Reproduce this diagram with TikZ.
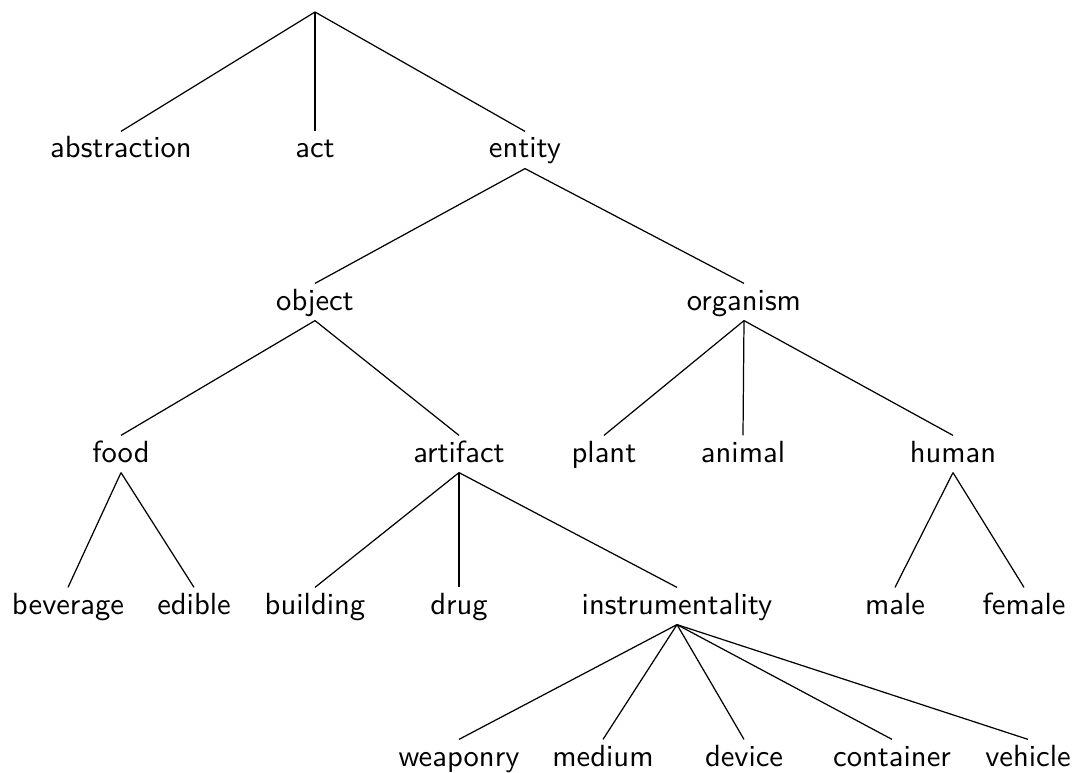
\documentclass[tikz,border=0pt]{standalone}
\begin{document}
\begin{tikzpicture}[x=0.3268pt, y=-0.3268pt,
  lbl/.style={font=\sffamily, anchor=base, inner xsep=0pt, inner ysep=1.6pt,
              text height=6.9pt, text depth=1.67pt},
  edge/.style={draw=black, line width=0.4pt}]
\useasboundingbox (0,0) rectangle (1074,773);

% root
\coordinate (root) at (315,12);

% level 1
\node[lbl] (abstraction) at (121,158) {abstraction};
\node[lbl] (act)         at (315,158) {act};
\node[lbl] (entity)      at (525,158) {entity};

% level 2
\node[lbl] (object)   at (315,310) {object};
\node[lbl] (organism) at (744,310) {organism};

% level 3
\node[lbl] (food)     at (121,462) {food};
\node[lbl] (artifact) at (459,462) {artifact};
\node[lbl] (plant)    at (604,462) {plant};
\node[lbl] (animal)   at (743,462) {animal};
\node[lbl] (human)    at (953,462) {human};

% level 4
\node[lbl] (beverage)  at (68,614)   {beverage};
\node[lbl] (edible)    at (194,614)  {edible};
\node[lbl] (building)  at (315,614)  {building};
\node[lbl] (drug)      at (459,614)  {drug};
\node[lbl] (instr)     at (677,614)  {instrumentality};
\node[lbl] (male)      at (895,614)  {male};
\node[lbl] (female)    at (1024,614) {female};

% level 5
\node[lbl] (weaponry)  at (459,766)  {weaponry};
\node[lbl] (medium)    at (603,766)  {medium};
\node[lbl] (device)    at (744,766)  {device};
\node[lbl] (container) at (892,766)  {container};
\node[lbl] (vehicle)   at (1028,766) {vehicle};

% edges
\foreach \c in {abstraction,act,entity} \draw[edge] (root) -- (\c.north);
\foreach \c in {object,organism} \draw[edge] (entity.south) -- (\c.north);
\foreach \c in {food,artifact} \draw[edge] (object.south) -- (\c.north);
\foreach \c in {plant,animal,human} \draw[edge] (organism.south) -- (\c.north);
\foreach \c in {beverage,edible} \draw[edge] (food.south) -- (\c.north);
\foreach \c in {building,drug,instr} \draw[edge] (artifact.south) -- (\c.north);
\foreach \c in {male,female} \draw[edge] (human.south) -- (\c.north);
\foreach \c in {weaponry,medium,device,container,vehicle} \draw[edge] (instr.south) -- (\c.north);
\end{tikzpicture}
\end{document}
